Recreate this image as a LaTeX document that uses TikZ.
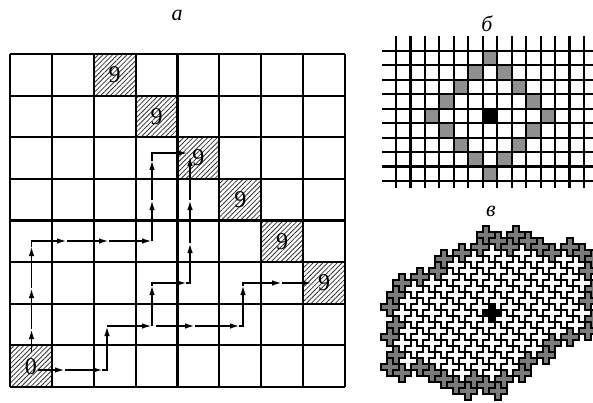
\documentclass[tikz,border=0pt]{standalone}
\usepackage{fontspec}
\setmainfont{Liberation Serif}
\usetikzlibrary{arrows.meta,patterns.meta}
\definecolor{cellgrey}{gray}{0.56}
\definecolor{tilegrey}{gray}{0.48}
\begin{document}
\begin{tikzpicture}[x=1pt,y=-1pt,
  gridline/.style={line width=2.1pt},
  hatchcell/.style={pattern={Lines[angle=45,distance=3.4pt,line width=0.8pt]},pattern color=black!80},
  cellnum/.style={font=\fontsize{24}{24}\selectfont, inner sep=0pt},
  panellabel/.style={font=\fontsize{22}{22}\selectfont\itshape, inner sep=0pt},
  seg/.style={line width=1.8pt, line cap=rect},
  arr/.style={line width=1.8pt, -{Latex[length=10pt,width=5.5pt]}},
  bline/.style={line width=2.1pt},
  tile/.style={line width=1.7pt, line join=miter},
]
\useasboundingbox (0,0) rectangle (593,403);

% ---------------- panel a ----------------
\def\gx{10}\def\gdx{41.875}\def\gy{54}\def\gdy{41.625}
\foreach \c/\r in {2/0,3/1,4/2,5/3,6/4,7/5,0/7}{
  \fill[hatchcell] (\gx+\c*\gdx,\gy+\r*\gdy) rectangle ++(\gdx,\gdy);
}
\foreach \k in {0,...,8}{
  \draw[gridline] (\gx+\k*\gdx,\gy) -- (\gx+\k*\gdx,\gy+8*\gdy);
  \draw[gridline] (\gx,\gy+\k*\gdy) -- (\gx+8*\gdx,\gy+\k*\gdy);
}
\foreach \c/\r [count=\n] in {2/0,3/1,4/2,5/3,6/4,7/5}{
  \node[cellnum] (nine\n) at (\gx+\c*\gdx+0.5*\gdx,\gy+\r*\gdy+0.5*\gdy) {9};
}
\node[cellnum] (zero) at (\gx+0.5*\gdx,\gy+7.5*\gdy) {0};
\node[panellabel] (la) at (177,15) {а};

% route A
\coordinate (A0) at (31.5,352);
\coordinate (A1) at (31.5,329);
\coordinate (A2) at (31.5,288);
\coordinate (A3) at (31.5,246);
\coordinate (A4) at (31.5,241);
\coordinate (A5) at (67,241);
\coordinate (A6) at (109,241);
\coordinate (A7) at (152,241);
\coordinate (A8) at (152,200);
\coordinate (A9) at (152,160);
\coordinate (A10) at (152,153);
\coordinate (A11) at (188,153);
\draw[arr] (A0) -- (A1);
\draw[arr] (A1) -- (A2);
\draw[arr] (A2) -- (A3);
\draw[seg] (A3) -- (A4);
\draw[arr] (A4) -- (A5);
\draw[arr] (A5) -- (A6);
\draw[arr] (A6) -- (A7);
\draw[arr] (A7) -- (A8);
\draw[arr] (A8) -- (A9);
\draw[seg] (A9) -- (A10);
\draw[arr] (A10) -- (A11);

% route B
\coordinate (B0) at (38,370);
\coordinate (B1) at (65,370);
\coordinate (B2) at (103,370);
\coordinate (B3) at (107,370);
\coordinate (B4) at (107,326);
\coordinate (B5) at (152,326);
\coordinate (C1) at (152,285);
\coordinate (C2) at (152,283);
\coordinate (C3) at (187,283);
\coordinate (C4) at (190,283);
\coordinate (C5) at (190,243);
\coordinate (C6) at (190,200);
\coordinate (C7) at (190,156);
\coordinate (D0) at (156,326);
\coordinate (D1) at (195,326);
\coordinate (D2) at (240,326);
\coordinate (D3) at (243,326);
\coordinate (D4) at (243,285);
\coordinate (D5) at (243,283);
\coordinate (D6) at (282,283);
\coordinate (D7) at (312,283);
\draw[arr] (B0) -- (B1);
\draw[arr] (B1) -- (B2);
\draw[seg] (B2) -- (B3);
\draw[arr] (B3) -- (B4);
\draw[arr] (B4) -- (B5);
\draw[arr] (B5) -- (C1);
\draw[seg] (C1) -- (C2);
\draw[arr] (C2) -- (C3);
\draw[seg] (C3) -- (C4);
\draw[arr] (C4) -- (C5);
\draw[arr] (C5) -- (C6);
\draw[arr] (C6) -- (C7);
\draw[arr] (D0) -- (D1);
\draw[arr] (D1) -- (D2);
\draw[seg] (D2) -- (D3);
\draw[arr] (D3) -- (D4);
\draw[seg] (D4) -- (D5);
\draw[arr] (D5) -- (D6);
\draw[arr] (D6) -- (D7);

% ---------------- panel b ----------------
\def\bx{396}\def\bdx{14.46}\def\by{51}\def\bdy{14.44}
\foreach \dx/\dy in {0/-4,1/-3,2/-2,3/-1,4/0,3/1,2/2,1/3,0/4,-1/3,-2/2,-3/1,-4/0,-3/-1,-2/-2,-1/-3}{
  \fill[cellgrey] (\bx+6*\bdx+\dx*\bdx,\by+4*\bdy+\dy*\bdy) rectangle ++(\bdx,\bdy);
}
\fill[black] (\bx+6*\bdx,\by+4*\bdy) rectangle ++(\bdx,\bdy);
\foreach \k in {0,...,13}{
  \draw[bline] (\bx+\k*\bdx,36) -- (\bx+\k*\bdx,188);
}
\foreach \m in {0,...,9}{
  \draw[bline] (382,\by+\m*\bdy) -- (593,\by+\m*\bdy);
}
\node[panellabel] (lb) at (487,24) {б};

% ---------------- panel c ----------------
\node[panellabel] (lc) at (491,211) {в};
\def\s{6}
\pgfmathsetmacro{\h}{\s/2}
\foreach \i in {-12,...,12}{
 \foreach \j in {-12,...,12}{
  \pgfmathsetmacro{\cx}{492+\s*(2*\i-\j)}
  \pgfmathsetmacro{\cy}{313+\s*(\i+2*\j)}
  \pgfmathsetmacro{\dmin}{min(\cy-230-(490-\cx)*0.556, \cy-230-(\cx-490)*0.17, 596-\cx, 330+(593-\cx)*0.65-\cy, 369+(\cx-377)*0.245-\cy, \cx-386)}
  \ifdim\dmin pt>0pt
    \def\tf{white}%
    \ifdim\dmin pt<14pt \def\tf{tilegrey}\fi
    \ifnum\i=0 \ifnum\j=0 \def\tf{black}\fi\fi
    \filldraw[tile, fill=\tf] (\cx,\cy) ++(-\h,-3*\h) -- ++(\s,0) -- ++(0,\s) -- ++(\s,0) -- ++(0,\s) -- ++(-\s,0) -- ++(0,\s) -- ++(-\s,0) -- ++(0,-\s) -- ++(-\s,0) -- ++(0,-\s) -- ++(\s,0) -- cycle;
  \fi
 }
}
\end{tikzpicture}
\end{document}
